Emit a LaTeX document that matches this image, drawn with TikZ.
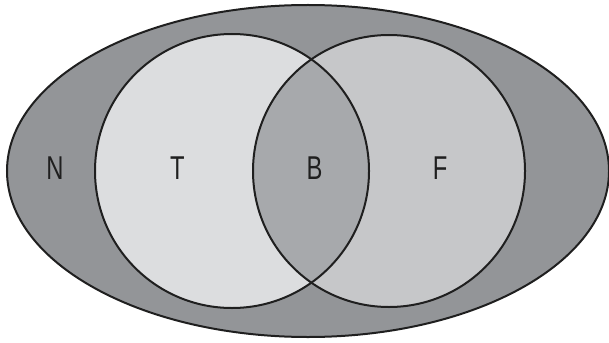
\documentclass[tikz,border=0pt]{standalone}
\usepackage{fontspec}
\setmainfont{Liberation Sans}[FakeStretch=0.72]
\usetikzlibrary{positioning}
\definecolor{outer-color}{RGB}{147,149,152}
\definecolor{true-color}{RGB}{220,221,223}
\definecolor{false-color}{RGB}{198,199,201}
\definecolor{both-color}{RGB}{167,169,172}

\begin{document}
\begin{tikzpicture}[x=1pt, y=-1pt,
    region/.style={draw=black!88, line width=2pt},
    letter/.style={font=\fontsize{33}{33}\selectfont, text=black!88, inner sep=0pt}]
    \useasboundingbox (0,0) rectangle (609,342);

    % Outer ellipse (neither)
    \draw[region, fill=outer-color] (308,171) ellipse [x radius=301pt, y radius=166pt];

    % The two circles
    \fill[true-color] (232,171) circle [radius=137pt];
    \fill[false-color] (389,171) circle [radius=136pt];

    % Overlap (both)
    \begin{scope}
        \clip (232,171) circle [radius=137pt];
        \fill[both-color] (389,171) circle [radius=136pt];
    \end{scope}

    % Outlines
    \draw[region] (232,171) circle [radius=137pt];
    \draw[region] (389,171) circle [radius=136pt];

    % Labels
    \node[letter] (n) at (55,168.5) {N};
    \node[letter] (t) at (177.5,168.5) {T};
    \node[letter] (b) at (314.5,168.5) {B};
    \node[letter] (f) at (440,168.5) {F};
\end{tikzpicture}
\end{document}
